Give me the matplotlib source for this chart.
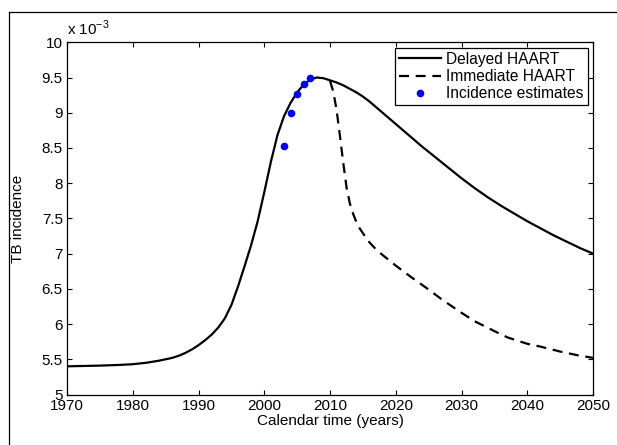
import matplotlib
matplotlib.use("Agg")
import matplotlib.pyplot as plt
from matplotlib.lines import Line2D

plt.rcParams['font.family'] = ['Liberation Sans', 'DejaVu Sans']
plt.rcParams['mathtext.fontset'] = 'custom'
plt.rcParams['mathtext.rm'] = 'Liberation Sans'

# Delayed HAART (values in units of 1e-3)
delayed_years = [1970, 1975, 1978, 1980, 1982, 1984, 1986, 1987, 1988, 1989, 1990, 1991,
                 1992, 1993, 1994, 1995, 1996, 1997, 1998, 1999, 2000, 2001, 2002, 2003,
                 2004, 2005, 2006, 2007, 2008, 2009, 2010, 2011, 2012, 2013, 2014, 2015,
                 2016, 2017, 2018, 2019, 2020, 2021, 2022, 2024, 2026, 2028, 2030, 2032,
                 2034, 2036, 2038, 2040, 2042, 2044, 2046, 2048, 2050]
delayed_vals = [5.40, 5.41, 5.42, 5.43, 5.45, 5.48, 5.52, 5.55, 5.59, 5.64, 5.70, 5.77,
                5.85, 5.95, 6.08, 6.27, 6.53, 6.82, 7.12, 7.46, 7.87, 8.30, 8.68, 8.95,
                9.14, 9.29, 9.40, 9.47, 9.50, 9.49, 9.46, 9.43, 9.39, 9.34, 9.29, 9.23,
                9.16, 9.08, 9.00, 8.92, 8.84, 8.76, 8.68, 8.52, 8.37, 8.22, 8.07, 7.93,
                7.80, 7.68, 7.57, 7.46, 7.36, 7.26, 7.17, 7.08, 7.00]

# Immediate HAART (values in units of 1e-3)
immediate_years = [2010, 2010.5, 2011, 2011.5, 2012, 2012.5, 2013, 2013.5, 2014, 2014.5,
                   2015, 2016, 2017, 2018, 2020, 2022, 2025, 2027, 2030, 2032, 2035, 2037,
                   2040, 2042, 2045, 2047.5, 2050]
immediate_vals = [9.45, 9.30, 9.04, 8.68, 8.30, 7.95, 7.72, 7.57, 7.45, 7.36,
                  7.29, 7.16, 7.06, 6.98, 6.83, 6.69, 6.49, 6.35, 6.16, 6.04, 5.90, 5.81,
                  5.72, 5.68, 5.61, 5.56, 5.52]

# Incidence estimates
est_years = [2003, 2004, 2005, 2006, 2007]
est_vals = [8.53, 8.99, 9.27, 9.41, 9.49]

x_ticks = [1970, 1980, 1990, 2000, 2010, 2020, 2030, 2040, 2050]
y_ticks = [5, 5.5, 6, 6.5, 7, 7.5, 8, 8.5, 9, 9.5, 10]
y_tick_labels = ['5', '5.5', '6', '6.5', '7', '7.5', '8', '8.5', '9', '9.5', '10']

W, H = 617, 445
fig = plt.figure(figsize=(W / 100, H / 100), dpi=100)
ax = fig.add_axes([67 / W, 1 - 394.5 / H, (593 - 67) / W, (394.5 - 42.3) / H])

ax.plot(delayed_years, delayed_vals, color='black', lw=1.6, label='Delayed HAART', zorder=3)
ax.plot(immediate_years, immediate_vals, color='black', lw=1.6,
        linestyle=(0, (4.5, 3)), label='Immediate HAART', zorder=2)
ax.plot(est_years, est_vals, linestyle='none', marker='o', ms=4.5,
        color='#0000ff', mec='#0000ff', label='Incidence estimates', zorder=4)

ax.set_xlim(1970, 2050)
ax.set_ylim(5, 10)
ax.set_xticks(x_ticks)
ax.set_yticks(y_ticks)
ax.set_yticklabels(y_tick_labels)
ax.tick_params(direction='in', length=3.5, width=0.8, top=True, right=True,
               labelsize=11, pad=3)
for s in ax.spines.values():
    s.set_linewidth(0.9)

ax.set_xlabel('Calendar time (years)', fontsize=11, labelpad=1)
ax.set_ylabel('TB incidence', fontsize=11)
ax.yaxis.set_label_coords((25 - 67) / (593 - 67), 0.5)

ax.text(0.0, 1.012, r'x 10$^{-3}$', transform=ax.transAxes, fontsize=11,
        ha='left', va='bottom')

leg = ax.legend(loc='upper right', fontsize=11.2, frameon=True, fancybox=False,
                framealpha=1, edgecolor='black', handlelength=2.7,
                handletextpad=0.35, borderpad=0.25, labelspacing=0.15,
                borderaxespad=0.35, numpoints=1)
leg.get_frame().set_linewidth(0.9)

# outer frame lines (left and top)
fig.add_artist(Line2D([9 / W, 9 / W], [0, 1 - 12 / H], transform=fig.transFigure,
                      color='black', lw=0.9))
fig.add_artist(Line2D([9 / W, 1], [1 - 12 / H, 1 - 12 / H], transform=fig.transFigure,
                      color='black', lw=0.9))

fig.savefig('out.png', dpi=100)
